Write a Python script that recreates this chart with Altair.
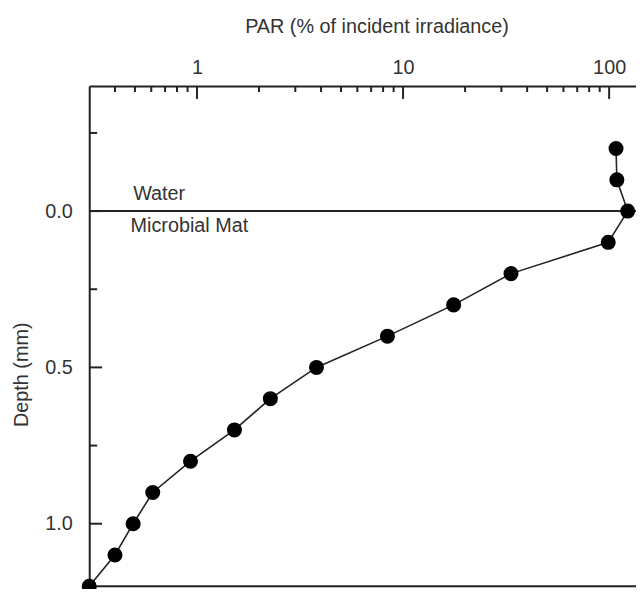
import altair as alt
import pandas as pd

# Data
depth = [-0.2, -0.1, 0.0, 0.1, 0.2, 0.3, 0.4, 0.5, 0.6, 0.7, 0.8, 0.9, 1.0, 1.1, 1.2]
par = [108, 109, 123, 99, 33.4, 17.6, 8.4, 3.8, 2.27, 1.52, 0.93, 0.61, 0.49, 0.40, 0.30]

x_major = [1, 10, 100]
x_minor = [0.4, 0.5, 0.6, 0.7, 0.8, 0.9, 2, 3, 4, 5, 6, 7, 8, 9, 20, 30, 40, 50, 60, 70, 80, 90]
y_major = [0.0, 0.5, 1.0]
y_minor = [-0.25, 0.25, 0.75]

ann_labels = ["Water", "Microbial Mat"]
ann_x = [0.49, 0.476]

W, H = 552, 505
FONT = "Liberation Sans"
TXT = "#333333"
LINE = "#222222"

df = pd.DataFrame({"depth": depth, "par": par})
xs = alt.Scale(type="log", domain=[0.3, 135], nice=False)
ys = alt.Scale(domain=[-0.4, 1.2], reverse=True, nice=False, zero=False)

x_axis = alt.Axis(
    orient="top", values=x_major, format=".0f", ticks=False, tickSize=0, grid=False,
    domainColor=LINE, domainWidth=2, labelFontSize=20, labelColor=TXT, labelFont=FONT,
    labelPadding=13, labelBaseline="alphabetic",
    title="PAR (% of incident irradiance)", titleFontSize=20, titleFont=FONT,
    titleFontWeight="normal", titleColor=TXT, titleX=290, titleY=-54,
    titleBaseline="alphabetic", titleAlign="center", titleAnchor="start",
)
y_axis = alt.Axis(
    orient="left", values=y_major, format=".1f", ticks=False, tickSize=0, grid=False,
    domainColor=LINE, domainWidth=2, labelFontSize=20, labelColor=TXT, labelFont=FONT,
    labelPadding=17, title="Depth (mm)", titleFontSize=20, titleFont=FONT,
    titleFontWeight="normal", titleColor=TXT, titleAngle=-90, titleX=-68, titleY=291,
    titleAlign="center", titleBaseline="middle", titleAnchor="start",
)

base = alt.Chart(df)
line = base.mark_line(color=LINE, strokeWidth=1.6).encode(
    x=alt.X("par:Q", scale=xs, axis=x_axis),
    y=alt.Y("depth:Q", scale=ys, axis=y_axis),
    order="depth:Q",
)
pts = base.mark_circle(size=230, color="black", opacity=1).encode(
    x=alt.X("par:Q", scale=xs), y=alt.Y("depth:Q", scale=ys)
)

zero_line = alt.Chart(pd.DataFrame({"d": [0.0]})).mark_rule(color=LINE, strokeWidth=2).encode(
    y=alt.Y("d:Q", scale=ys), x=alt.value(0), x2=alt.value(W)
)
bottom_line = alt.Chart(pd.DataFrame({"d": [1.2]})).mark_rule(color=LINE, strokeWidth=2).encode(
    y=alt.Y("d:Q", scale=ys), x=alt.value(0), x2=alt.value(W)
)

xmin_t = alt.Chart(pd.DataFrame({"v": x_minor})).mark_rule(color=LINE, strokeWidth=2).encode(
    x=alt.X("v:Q", scale=xs), y=alt.value(0), y2=alt.value(6)
)
xmaj_t = alt.Chart(pd.DataFrame({"v": x_major})).mark_rule(color=LINE, strokeWidth=2).encode(
    x=alt.X("v:Q", scale=xs), y=alt.value(0), y2=alt.value(13)
)
ymin_t = alt.Chart(pd.DataFrame({"v": y_minor})).mark_rule(color=LINE, strokeWidth=2).encode(
    y=alt.Y("v:Q", scale=ys), x=alt.value(0), x2=alt.value(8)
)
ymaj_t = alt.Chart(pd.DataFrame({"v": y_major})).mark_rule(color=LINE, strokeWidth=2).encode(
    y=alt.Y("v:Q", scale=ys), x=alt.value(0), x2=alt.value(13)
)

t_water = alt.Chart(pd.DataFrame({"x": [ann_x[0]], "y": [0.0], "t": [ann_labels[0]]})).mark_text(
    align="left", baseline="alphabetic", dy=-11, fontSize=20, font=FONT, color=TXT
).encode(x=alt.X("x:Q", scale=xs), y=alt.Y("y:Q", scale=ys), text="t:N")
t_mat = alt.Chart(pd.DataFrame({"x": [ann_x[1]], "y": [0.0], "t": [ann_labels[1]]})).mark_text(
    align="left", baseline="alphabetic", dy=21, fontSize=20, font=FONT, color=TXT
).encode(x=alt.X("x:Q", scale=xs), y=alt.Y("y:Q", scale=ys), text="t:N")

chart = alt.layer(
    zero_line, bottom_line, xmin_t, xmaj_t, ymin_t, ymaj_t, line, pts, t_water, t_mat
).properties(
    width=W, height=H,
    autosize=alt.AutoSizeParams(type="none"),
    padding={"left": 82, "top": 76, "right": 0, "bottom": 0},
).configure_view(stroke=None).configure(font=FONT)

chart.save("out.html", embed_options={"renderer": "svg", "actions": False})
